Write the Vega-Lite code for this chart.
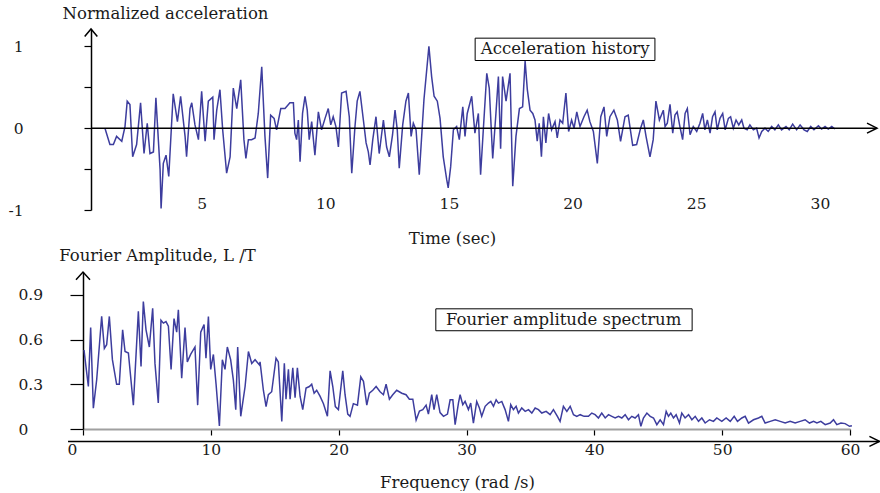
{
  "$schema": "https://vega.github.io/schema/vega-lite/v6.json",
  "background": "white",
  "padding": {"left": 7, "top": 5, "right": 0, "bottom": 0},
  "spacing": 62,
  "bounds": "flush",
  "config": {
    "view": {"stroke": null},
    "font": "DejaVu Serif",
    "axis": {"grid": false, "labelFont": "DejaVu Serif", "titleFont": "DejaVu Serif", "labelColor": "#1a1a1a", "titleColor": "#1a1a1a", "titleFontWeight": "normal", "labelFlush": false, "labelOverlap": false, "labelFontSize": 15.5, "titleFontSize": 16.5}
  },
  "datasets": {
    "one": [{"k": 1}],
    "acc": [
      {"t":1.09,"a":0},{"t":1.29,"a":-0.20},{"t":1.43,"a":-0.20},{"t":1.56,"a":-0.10},{"t":1.77,"a":-0.16},{"t":1.90,"a":0.02},{"t":1.99,"a":0.33},{"t":2.10,"a":0.29},{"t":2.21,"a":-0.35},{"t":2.37,"a":-0.20},{"t":2.53,"a":0.31},{"t":2.67,"a":-0.31},{"t":2.80,"a":0.06},{"t":2.91,"a":-0.31},{"t":3.05,"a":-0.29},{"t":3.15,"a":0.37},{"t":3.32,"a":-0.51},{"t":3.36,"a":-0.98},{"t":3.45,"a":-0.43},{"t":3.56,"a":-0.33},{"t":3.67,"a":-0.59},{"t":3.85,"a":0.42},{"t":4.02,"a":0.08},{"t":4.15,"a":0.39},{"t":4.33,"a":-0.10},{"t":4.39,"a":-0.35},{"t":4.53,"a":0.24},{"t":4.60,"a":0.31},{"t":4.73,"a":0.04},{"t":4.87,"a":-0.14},{"t":5.00,"a":0.45},{"t":5.14,"a":-0.16},{"t":5.27,"a":0.33},{"t":5.45,"a":0.38},{"t":5.50,"a":-0.14},{"t":5.61,"a":0.22},{"t":5.74,"a":0.47},{"t":5.85,"a":-0.02},{"t":6.01,"a":-0.55},{"t":6.15,"a":-0.35},{"t":6.28,"a":0.49},{"t":6.42,"a":0.24},{"t":6.58,"a":0.59},{"t":6.71,"a":-0.14},{"t":6.79,"a":-0.37},{"t":6.89,"a":-0.14},{"t":7.02,"a":-0.14},{"t":7.16,"a":-0.12},{"t":7.29,"a":0.18},{"t":7.43,"a":0.75},{"t":7.56,"a":-0.10},{"t":7.67,"a":-0.61},{"t":7.79,"a":0.16},{"t":7.93,"a":0.12},{"t":8.03,"a":-0.02},{"t":8.20,"a":0.24},{"t":8.37,"a":0.24},{"t":8.57,"a":0.31},
      {"t":8.71,"a":0.31},{"t":8.77,"a":-0.06},{"t":8.84,"a":-0.14},{"t":8.91,"a":0.10},{"t":8.98,"a":-0.41},{"t":9.08,"a":0.18},{"t":9.18,"a":0.39},{"t":9.27,"a":0.22},{"t":9.35,"a":-0.14},{"t":9.45,"a":0.08},{"t":9.58,"a":-0.33},{"t":9.72,"a":0.20},{"t":9.85,"a":-0.02},{"t":9.99,"a":0.12},{"t":10.12,"a":0.24},{"t":10.22,"a":0.04},{"t":10.32,"a":0.14},{"t":10.43,"a":0.02},{"t":10.53,"a":-0.23},{"t":10.66,"a":0.43},{"t":10.84,"a":0.45},{"t":10.97,"a":0.14},{"t":11.07,"a":-0.55},{"t":11.20,"a":0.02},{"t":11.29,"a":0.33},{"t":11.40,"a":0.45},{"t":11.54,"a":0.10},{"t":11.65,"a":-0.18},{"t":11.74,"a":-0.29},{"t":11.81,"a":-0.45},{"t":11.92,"a":-0.14},{"t":12.05,"a":0.14},{"t":12.18,"a":-0.31},{"t":12.35,"a":0.10},{"t":12.48,"a":-0.23},{"t":12.59,"a":-0.35},{"t":12.72,"a":-0.08},{"t":12.82,"a":0.22},{"t":12.91,"a":-0.02},{"t":12.99,"a":-0.49},{"t":13.13,"a":0.04},{"t":13.26,"a":0.33},{"t":13.36,"a":0.43},{"t":13.47,"a":-0.10},{"t":13.56,"a":0.06},{"t":13.67,"a":-0.02},{"t":13.80,"a":-0.57},{"t":13.99,"a":0.35},{"t":14.19,"a":1.0},{"t":14.30,"a":0.63},{"t":14.40,"a":0.39},{"t":14.53,"a":0.33},{"t":14.64,"a":0.12},{"t":14.77,"a":-0.35},{"t":14.91,"a":-0.63},{"t":14.97,"a":-0.73},{"t":15.07,"a":-0.47},{"t":15.18,"a":-0.02},{"t":15.31,"a":0.02},{"t":15.42,"a":-0.14},{"t":15.56,"a":0.26},{"t":15.65,"a":-0.10},{"t":15.74,"a":0.18},{"t":15.92,"a":0.39},{"t":16.05,"a":-0.06},{"t":16.19,"a":0.18},
      {"t":16.28,"a":-0.57},{"t":16.39,"a":-0.02},{"t":16.53,"a":0.67},{"t":16.63,"a":0.49},{"t":16.77,"a":-0.37},{"t":16.90,"a":0.18},{"t":17.00,"a":0.63},{"t":17.09,"a":-0.25},{"t":17.17,"a":0.63},{"t":17.31,"a":0.33},{"t":17.47,"a":0.67},{"t":17.58,"a":-0.71},{"t":17.71,"a":-0.10},{"t":17.85,"a":0.24},{"t":17.98,"a":0.26},{"t":18.08,"a":0.82},{"t":18.17,"a":0.47},{"t":18.28,"a":0.22},{"t":18.39,"a":0.18},{"t":18.48,"a":0.10},{"t":18.57,"a":-0.16},{"t":18.65,"a":0.06},{"t":18.74,"a":-0.35},{"t":18.82,"a":0.14},{"t":18.92,"a":-0.18},{"t":19.03,"a":0.18},{"t":19.15,"a":-0.02},{"t":19.29,"a":0.08},{"t":19.38,"a":-0.12},{"t":19.49,"a":0.10},{"t":19.60,"a":0.06},{"t":19.73,"a":0.43},{"t":19.84,"a":-0.04},{"t":19.96,"a":0.10},{"t":20.06,"a":0},{"t":20.17,"a":0.20},{"t":20.30,"a":0.02},{"t":20.46,"a":0.14},{"t":20.59,"a":0.22},{"t":20.70,"a":0.08},{"t":20.84,"a":-0.04},{"t":21.00,"a":-0.43},{"t":21.14,"a":0.14},{"t":21.27,"a":0.26},{"t":21.38,"a":-0.10},{"t":21.51,"a":0.14},{"t":21.67,"a":0.22},{"t":21.81,"a":0.10},{"t":21.94,"a":-0.16},{"t":22.12,"a":0.14},{"t":22.25,"a":0.16},{"t":22.43,"a":-0.21},{"t":22.59,"a":-0.20},{"t":22.75,"a":0},{"t":22.86,"a":0.10},{"t":22.97,"a":-0.10},{"t":23.13,"a":-0.35},{"t":23.26,"a":-0.14},{"t":23.37,"a":0.33},{"t":23.51,"a":0.10},{"t":23.67,"a":0.22},
      {"t":23.74,"a":0.02},{"t":23.83,"a":0.06},{"t":23.94,"a":0.29},{"t":24.05,"a":-0.06},{"t":24.14,"a":0.16},{"t":24.23,"a":0.20},{"t":24.34,"a":0.02},{"t":24.45,"a":-0.14},{"t":24.55,"a":0.18},{"t":24.64,"a":0.24},{"t":24.75,"a":-0.08},{"t":24.88,"a":0.02},{"t":25.02,"a":-0.04},{"t":25.15,"a":0.06},{"t":25.26,"a":0.18},{"t":25.35,"a":-0.02},{"t":25.45,"a":0.10},{"t":25.56,"a":-0.06},{"t":25.66,"a":0.14},{"t":25.76,"a":0.20},{"t":25.85,"a":-0.02},{"t":25.96,"a":0.12},{"t":26.07,"a":0.18},{"t":26.17,"a":-0.02},{"t":26.30,"a":0.12},{"t":26.39,"a":0.14},{"t":26.50,"a":0},{"t":26.61,"a":0.10},{"t":26.72,"a":0.04},{"t":26.84,"a":0.10},{"t":26.93,"a":0},{"t":27.06,"a":-0.02},{"t":27.17,"a":0.04},{"t":27.31,"a":-0.02},{"t":27.44,"a":0},{"t":27.54,"a":-0.12},{"t":27.65,"a":-0.04},{"t":27.78,"a":0},{"t":27.91,"a":-0.04},{"t":28.05,"a":0.02},{"t":28.18,"a":-0.02},{"t":28.32,"a":0.04},{"t":28.45,"a":-0.02},{"t":28.63,"a":0.02},{"t":28.76,"a":-0.02},{"t":28.90,"a":0.05},{"t":29.06,"a":-0.02},{"t":29.20,"a":0.04},{"t":29.36,"a":-0.02},{"t":29.49,"a":-0.04},{"t":29.63,"a":0.02},{"t":29.76,"a":-0.02},{"t":29.94,"a":0.03},{"t":30.07,"a":-0.01},{"t":30.21,"a":0.02},{"t":30.34,"a":-0.01},{"t":30.48,"a":0.02},{"t":30.61,"a":-0.01}
    ],
    "fas": [
      {"f":0.08,"amp":0.53},{"f":0.23,"amp":0.42},{"f":0.42,"amp":0.285},{"f":0.60,"amp":0.68},{"f":0.81,"amp":0.14},{"f":1.07,"amp":0.33},{"f":1.46,"amp":0.755},{"f":1.67,"amp":0.54},{"f":1.85,"amp":0.565},{"f":2.06,"amp":0.755},{"f":2.30,"amp":0.465},{"f":2.63,"amp":0.30},{"f":2.84,"amp":0.30},{"f":3.10,"amp":0.665},{"f":3.29,"amp":0.52},{"f":3.55,"amp":0.51},{"f":3.94,"amp":0.16},{"f":4.33,"amp":0.79},{"f":4.54,"amp":0.42},{"f":4.72,"amp":0.855},{"f":4.93,"amp":0.665},{"f":5.19,"amp":0.55},{"f":5.45,"amp":0.81},{"f":5.63,"amp":0.44},{"f":5.89,"amp":0.175},{"f":6.10,"amp":0.73},{"f":6.29,"amp":0.71},{"f":6.49,"amp":0.72},{"f":6.68,"amp":0.69},{"f":6.89,"amp":0.40},{"f":7.12,"amp":0.74},{"f":7.33,"amp":0.65},{"f":7.46,"amp":0.80},{"f":7.72,"amp":0.34},{"f":7.98,"amp":0.68},{"f":8.16,"amp":0.45},{"f":8.42,"amp":0.50},{"f":8.76,"amp":0.55},{"f":8.97,"amp":0.16},{"f":9.21,"amp":0.65},{"f":9.47,"amp":0.70},{"f":9.62,"amp":0.475},{"f":9.81,"amp":0.755},{"f":9.99,"amp":0.40},{"f":10.20,"amp":0.50},{"f":10.41,"amp":0.30},{"f":10.67,"amp":0.02},{"f":10.90,"amp":0.465},{"f":11.11,"amp":0.40},{"f":11.29,"amp":0.55},{"f":11.55,"amp":0.465},{"f":11.76,"amp":0.33},{"f":11.95,"amp":0.13},{"f":12.10,"amp":0.55},{"f":12.34,"amp":0.085},{"f":12.68,"amp":0.285},{"f":12.94,"amp":0.52},{"f":13.20,"amp":0.44},{"f":13.46,"amp":0.465},{"f":13.80,"amp":0.43},
      {"f":13.85,"amp":0.45},{"f":14.11,"amp":0.26},{"f":14.32,"amp":0.15},{"f":14.50,"amp":0.23},{"f":14.76,"amp":0.25},{"f":15.10,"amp":0.475},{"f":15.28,"amp":0.45},{"f":15.55,"amp":0.05},{"f":15.75,"amp":0.44},{"f":15.88,"amp":0.20},{"f":16.07,"amp":0.40},{"f":16.20,"amp":0.20},{"f":16.41,"amp":0.41},{"f":16.59,"amp":0.21},{"f":16.77,"amp":0.41},{"f":16.98,"amp":0.22},{"f":17.19,"amp":0.13},{"f":17.45,"amp":0.275},{"f":17.71,"amp":0.285},{"f":17.89,"amp":0.30},{"f":18.08,"amp":0.24},{"f":18.28,"amp":0.26},{"f":18.54,"amp":0.22},{"f":18.81,"amp":0.17},{"f":19.12,"amp":0.085},{"f":19.33,"amp":0.39},{"f":19.54,"amp":0.285},{"f":19.74,"amp":0.15},{"f":19.98,"amp":0.13},{"f":20.32,"amp":0.39},{"f":20.50,"amp":0.23},{"f":20.71,"amp":0.10},{"f":20.89,"amp":0.085},{"f":21.15,"amp":0.17},{"f":21.47,"amp":0.16},{"f":21.73,"amp":0.35},{"f":21.94,"amp":0.32},{"f":22.20,"amp":0.16},{"f":22.40,"amp":0.24},{"f":22.67,"amp":0.26},{"f":22.93,"amp":0.285},{"f":23.24,"amp":0.25},{"f":23.50,"amp":0.23},{"f":23.71,"amp":0.30},{"f":23.97,"amp":0.20},{"f":24.23,"amp":0.23},{"f":24.54,"amp":0.26},{"f":24.94,"amp":0.24},{"f":25.27,"amp":0.23},{"f":25.53,"amp":0.20},{"f":25.80,"amp":0.20},{"f":26.06,"amp":0.06},{"f":26.32,"amp":0.12},{"f":26.58,"amp":0.13},{"f":26.84,"amp":0.16},{"f":27.02,"amp":0.10},{"f":27.28,"amp":0.23},{"f":27.46,"amp":0.13},{"f":27.67,"amp":0.23},{"f":27.93,"amp":0.11},{"f":28.20,"amp":0.085},{"f":28.51,"amp":0.10},
      {"f":28.72,"amp":0.196},{"f":28.93,"amp":0.196},{"f":29.11,"amp":0.029},{"f":29.37,"amp":0.174},{"f":29.50,"amp":0.23},{"f":29.71,"amp":0.163},{"f":29.89,"amp":0.185},{"f":30.15,"amp":0.13},{"f":30.33,"amp":0.174},{"f":30.54,"amp":0.04},{"f":30.80,"amp":0.185},{"f":31.01,"amp":0.141},{"f":31.19,"amp":0.085},{"f":31.46,"amp":0.152},{"f":31.72,"amp":0.174},{"f":31.90,"amp":0.185},{"f":32.11,"amp":0.152},{"f":32.32,"amp":0.196},{"f":32.50,"amp":0.174},{"f":32.76,"amp":0.185},{"f":33.02,"amp":0.13},{"f":33.28,"amp":0.051},{"f":33.46,"amp":0.163},{"f":33.67,"amp":0.13},{"f":33.88,"amp":0.152},{"f":34.06,"amp":0.107},{"f":34.32,"amp":0.141},{"f":34.59,"amp":0.118},{"f":34.85,"amp":0.13},{"f":35.11,"amp":0.107},{"f":35.37,"amp":0.141},{"f":35.63,"amp":0.13},{"f":35.89,"amp":0.107},{"f":36.23,"amp":0.118},{"f":36.54,"amp":0.096},{"f":36.80,"amp":0.13},{"f":37.11,"amp":0.085},{"f":37.32,"amp":0.051},{"f":37.58,"amp":0.152},{"f":37.85,"amp":0.118},{"f":38.11,"amp":0.152},{"f":38.37,"amp":0.096},{"f":38.63,"amp":0.085},{"f":38.89,"amp":0.096},{"f":39.20,"amp":0.085},{"f":39.54,"amp":0.085},{"f":39.80,"amp":0.107},{"f":40.06,"amp":0.096},{"f":40.32,"amp":0.074},{"f":40.58,"amp":0.107},{"f":40.85,"amp":0.074},{"f":41.11,"amp":0.096},{"f":41.37,"amp":0.085},{"f":41.63,"amp":0.074},{"f":41.89,"amp":0.085},{"f":42.15,"amp":0.074},{"f":42.41,"amp":0.096},{"f":42.67,"amp":0.062},{"f":42.93,"amp":0.085},{"f":43.19,"amp":0.074},{"f":43.45,"amp":0.096},{"f":43.64,"amp":0.018},{"f":43.84,"amp":0.074},{"f":44.11,"amp":0.107},{"f":44.37,"amp":0.085},{"f":44.63,"amp":0.074},{"f":44.89,"amp":0.029},{"f":45.15,"amp":0.062},
      {"f":45.41,"amp":0.029},{"f":45.62,"amp":0.118},{"f":45.80,"amp":0.085},{"f":45.98,"amp":0.107},{"f":46.19,"amp":0.074},{"f":46.40,"amp":0.096},{"f":46.66,"amp":0.04},{"f":46.84,"amp":0.107},{"f":47.10,"amp":0.074},{"f":47.37,"amp":0.096},{"f":47.63,"amp":0.062},{"f":47.89,"amp":0.085},{"f":48.15,"amp":0.051},{"f":48.41,"amp":0.074},{"f":48.67,"amp":0.04},{"f":49.01,"amp":0.062},{"f":49.32,"amp":0.051},{"f":49.58,"amp":0.074},{"f":49.97,"amp":0.051},{"f":50.31,"amp":0.074},{"f":50.63,"amp":0.051},{"f":50.94,"amp":0.085},{"f":51.20,"amp":0.051},{"f":51.54,"amp":0.074},{"f":51.80,"amp":0.085},{"f":52.06,"amp":0.04},{"f":52.45,"amp":0.062},{"f":52.84,"amp":0.074},{"f":53.10,"amp":0.085},{"f":53.36,"amp":0.04},{"f":53.76,"amp":0.051},{"f":54.15,"amp":0.062},{"f":54.54,"amp":0.051},{"f":54.93,"amp":0.04},{"f":55.32,"amp":0.051},{"f":55.71,"amp":0.04},{"f":56.10,"amp":0.051},{"f":56.49,"amp":0.062},{"f":56.83,"amp":0.04},{"f":57.15,"amp":0.051},{"f":57.41,"amp":0.04},{"f":57.72,"amp":0.051},{"f":58.06,"amp":0.029},{"f":58.45,"amp":0.04},{"f":58.71,"amp":0.062},{"f":58.97,"amp":0.029},{"f":59.29,"amp":0.04},{"f":59.62,"amp":0.036},{"f":59.96,"amp":0.018},{"f":60.15,"amp":0.022}
    ]
  },
  "vconcat": [
    {
      "width": 794,
      "height": 181,
      "layer": [
        {
          "data": {"name": "acc"},
          "mark": {"type": "line", "color": "#3d3d9e", "strokeWidth": 1.5},
          "encoding": {
            "x": {"field": "t", "type": "quantitative",
              "scale": {"domain": [0.202, 32.31], "nice": false, "zero": false},
              "axis": {"values": [5, 10, 15, 20, 25, 30], "domain": false, "ticks": false, "tickSize": 0, "labelPadding": -7, "labelBaseline": "middle",
                "title": "Time (sec)", "titleX": 369, "titleY": 28, "titleAlign": "center", "titleBaseline": "middle"}},
            "y": {"field": "a", "type": "quantitative",
              "scale": {"domain": [-1, 1.212], "nice": false, "zero": false},
              "axis": {"values": [-1, -0.5, 0, 0.5, 1], "offset": -8, "domainColor": "#000", "domainWidth": 1.5, "tickColor": "#000", "tickSize": 7, "tickWidth": 1.2,
                "labelAlign": "right", "labelBaseline": "middle", "labelPadding": 61,
                "labelExpr": "datum.value == 1 ? '1' : datum.value == 0 ? '0' : datum.value == -1 ? '-1' : ''",
                "title": "Normalized acceleration", "titleAngle": 0, "titleX": 74, "titleY": -16, "titleAlign": "center", "titleBaseline": "middle"}}
          }
        },
        {
          "data": {"name": "one"},
          "mark": {"type": "rule", "color": "#000", "strokeWidth": 1.5},
          "encoding": {
            "x": {"datum": 0.526, "type": "quantitative", "scale": {"domain": [0.202, 32.31], "nice": false, "zero": false}},
            "x2": {"datum": 32.31},
            "y": {"datum": 0, "type": "quantitative", "scale": {"domain": [-1, 1.212], "nice": false, "zero": false}}
          }
        },
        {
          "data": {"name": "one"},
          "mark": {"type": "point", "shape": "M-2,-1L0,0L-2,1", "size": 100, "filled": false, "stroke": "#000", "strokeWidth": 1.5, "opacity": 1},
          "encoding": {
            "x": {"datum": 32.31, "type": "quantitative", "scale": {"domain": [0.202, 32.31], "nice": false, "zero": false}},
            "y": {"datum": 0, "type": "quantitative", "scale": {"domain": [-1, 1.212], "nice": false, "zero": false}}
          }
        },
        {
          "data": {"name": "one"},
          "mark": {"type": "point", "shape": "M-1,1.2L0,0L1,1.2", "size": 160, "filled": false, "stroke": "#000", "strokeWidth": 1.5, "opacity": 1},
          "encoding": {
            "x": {"datum": 0.526, "type": "quantitative", "scale": {"domain": [0.202, 32.31], "nice": false, "zero": false}},
            "y": {"datum": 1.212, "type": "quantitative", "scale": {"domain": [-1, 1.212], "nice": false, "zero": false}}
          }
        },
        {
          "data": {"name": "one"},
          "mark": {"type": "rect", "fill": "white", "stroke": "#000", "strokeWidth": 1},
          "encoding": {
            "x": {"datum": 16.06, "type": "quantitative", "scale": {"domain": [0.202, 32.31], "nice": false, "zero": false}},
            "x2": {"datum": 23.33},
            "y": {"datum": 1.10, "type": "quantitative", "scale": {"domain": [-1, 1.212], "nice": false, "zero": false}},
            "y2": {"datum": 0.827}
          }
        },
        {
          "data": {"name": "one"},
          "mark": {"type": "text", "text": "Acceleration history", "font": "DejaVu Serif", "fontSize": 16.5, "color": "#1a1a1a", "align": "center", "baseline": "middle"},
          "encoding": {
            "x": {"datum": 19.7, "type": "quantitative", "scale": {"domain": [0.202, 32.31], "nice": false, "zero": false}},
            "y": {"datum": 0.965, "type": "quantitative", "scale": {"domain": [-1, 1.212], "nice": false, "zero": false}}
          }
        }
      ]
    },
    {
      "width": 767,
      "height": 157,
      "layer": [
        {
          "data": {"name": "fas"},
          "mark": {"type": "line", "color": "#3d3d9e", "strokeWidth": 1.5},
          "encoding": {
            "x": {"field": "f", "type": "quantitative",
              "scale": {"domain": [0, 60], "nice": false, "zero": false},
              "axis": {"values": [0, 10, 20, 30, 40, 50, 60], "domainColor": "#a0a0a0", "domainWidth": 2, "tickColor": "#000", "tickSize": 6, "tickWidth": 1.2,
                "labelPadding": 14.7, "labelBaseline": "middle",
                "labelOffset": {"condition": {"test": "datum.value == 0", "value": -11}, "value": 0},
                "title": "Frequency (rad /s)", "titleX": 374, "titleY": 53, "titleAlign": "center", "titleBaseline": "middle"}},
            "y": {"field": "amp", "type": "quantitative",
              "scale": {"domain": [0, 1.053], "nice": false, "zero": false},
              "axis": {"values": [0, 0.3, 0.6, 0.9], "domainColor": "#000", "domainWidth": 1.5, "tickColor": "#000", "tickSize": 13, "tickWidth": 1.2,
                "labelAlign": "left", "labelBaseline": "middle", "labelPadding": 52,
                "labelExpr": "datum.value == 0 ? '0' : format(datum.value, '.1f')",
                "title": "Fourier Amplitude, L /T", "titleAngle": 0, "titleX": 74, "titleY": -17, "titleAlign": "center", "titleBaseline": "middle"}}
          }
        },
        {
          "data": {"name": "one"},
          "mark": {"type": "rule", "color": "#000", "strokeWidth": 1.5},
          "encoding": {
            "x": {"datum": -1.17, "type": "quantitative", "scale": {"domain": [0, 60], "nice": false, "zero": false}},
            "x2": {"datum": 62.3},
            "y": {"datum": -0.083, "type": "quantitative", "scale": {"domain": [0, 1.053], "nice": false, "zero": false}}
          }
        },
        {
          "data": {"name": "one"},
          "mark": {"type": "point", "shape": "M-2,-1L0,0L-2,1", "size": 100, "filled": false, "stroke": "#000", "strokeWidth": 1.5, "opacity": 1},
          "encoding": {
            "x": {"datum": 62.3, "type": "quantitative", "scale": {"domain": [0, 60], "nice": false, "zero": false}},
            "y": {"datum": -0.083, "type": "quantitative", "scale": {"domain": [0, 1.053], "nice": false, "zero": false}}
          }
        },
        {
          "data": {"name": "one"},
          "mark": {"type": "point", "shape": "M-1,1.1L0,0L1,1.1", "size": 196, "filled": false, "stroke": "#000", "strokeWidth": 1.5, "opacity": 1},
          "encoding": {
            "x": {"datum": 0, "type": "quantitative", "scale": {"domain": [0, 60], "nice": false, "zero": false}},
            "y": {"datum": 1.053, "type": "quantitative", "scale": {"domain": [0, 1.053], "nice": false, "zero": false}}
          }
        },
        {
          "data": {"name": "one"},
          "mark": {"type": "rect", "fill": "white", "stroke": "#000", "strokeWidth": 1},
          "encoding": {
            "x": {"datum": 27.6, "type": "quantitative", "scale": {"domain": [0, 60], "nice": false, "zero": false}},
            "x2": {"datum": 47.65},
            "y": {"datum": 0.806, "type": "quantitative", "scale": {"domain": [0, 1.053], "nice": false, "zero": false}},
            "y2": {"datum": 0.659}
          }
        },
        {
          "data": {"name": "one"},
          "mark": {"type": "text", "text": "Fourier amplitude spectrum", "font": "DejaVu Serif", "fontSize": 16.5, "color": "#1a1a1a", "align": "center", "baseline": "middle"},
          "encoding": {
            "x": {"datum": 37.6, "type": "quantitative", "scale": {"domain": [0, 60], "nice": false, "zero": false}},
            "y": {"datum": 0.733, "type": "quantitative", "scale": {"domain": [0, 1.053], "nice": false, "zero": false}}
          }
        }
      ]
    }
  ]
}
